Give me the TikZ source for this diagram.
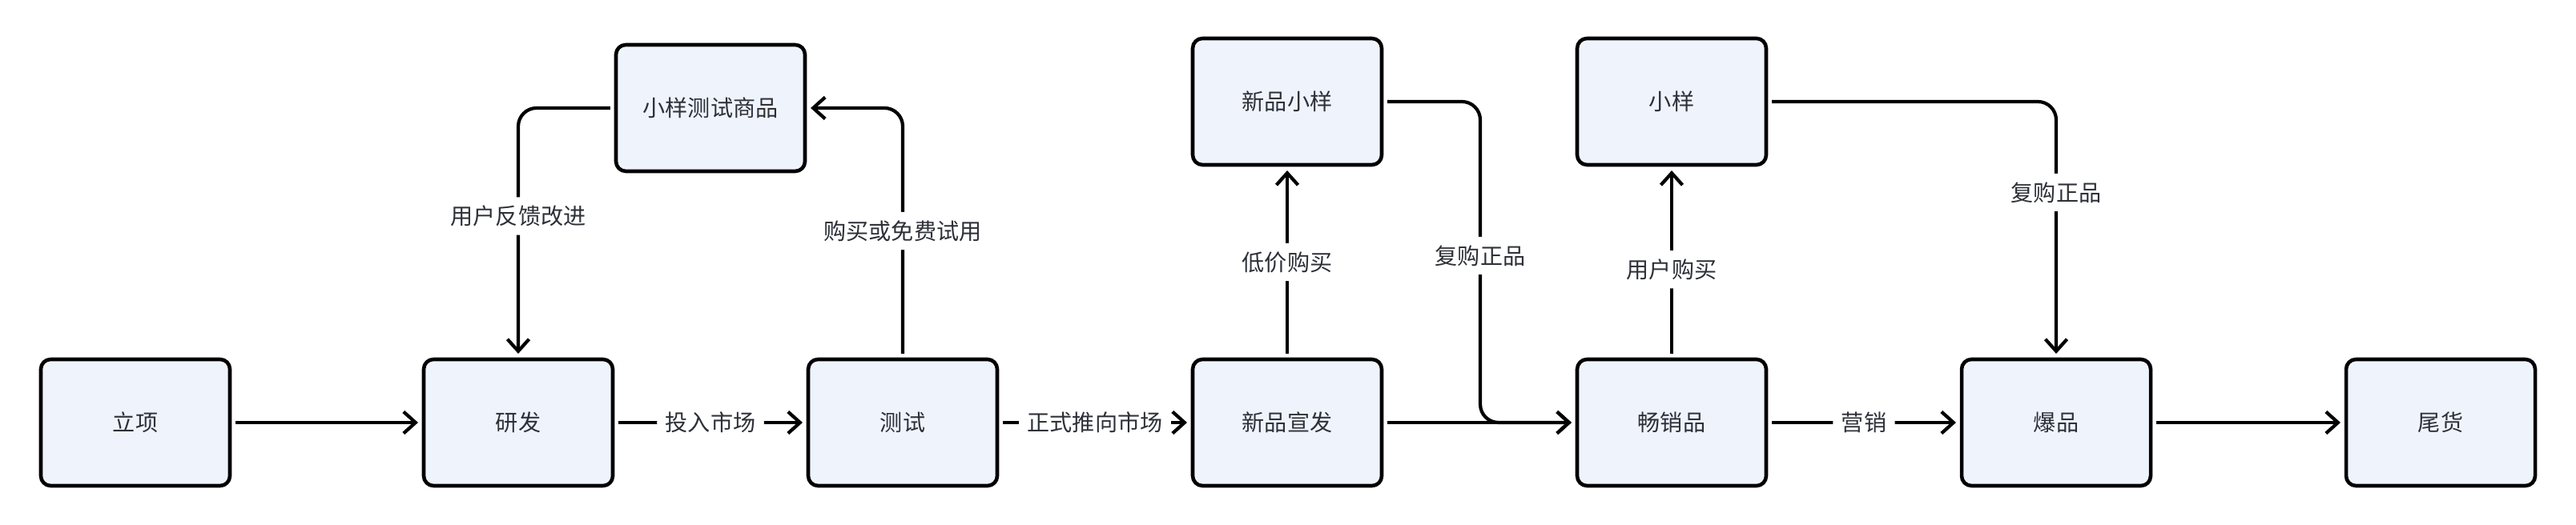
\documentclass[tikz,border=0pt]{standalone}
\usepackage{fontspec}
\setmainfont{Noto Sans CJK SC}
\usepackage{tikz}
\usetikzlibrary{positioning,arrows.meta}
\definecolor{boxfill}{RGB}{239,244,252}
\definecolor{txtgray}{RGB}{45,48,56}

\begin{document}
\begin{tikzpicture}[x=1cm,y=1cm,font=\fontsize{8}{10}\selectfont,
  stage/.style={draw=black,line width=1.3pt,rounded corners=3.5pt,fill=boxfill,text=txtgray,
    minimum width=2.36cm,minimum height=1.58cm,outer sep=2pt},
  link/.style={line width=1.2pt,rounded corners=6.5pt,-{Straight Barb[length=1.5mm,width=2.7mm,line width=1.2pt]}},
  tag/.style={fill=white,text=txtgray,inner sep=3pt}]

\useasboundingbox (0,0) rectangle (32.16,6.56);

% main line
\node[stage] (idea)   at (1.69,1.28)  {立项};
\node[stage] (dev)    at (6.47,1.28)  {研发};
\node[stage] (test)   at (11.27,1.28) {测试};
\node[stage] (launch) at (16.07,1.28) {新品宣发};
\node[stage] (best)   at (20.87,1.28) {畅销品};
\node[stage] (hit)    at (25.67,1.28) {爆品};
\node[stage] (tail)   at (30.47,1.28) {尾货};

% samples
\node[stage] (trial)  at (8.87,5.21)  {小样测试商品};
\node[stage] (nsmp)   at (16.07,5.29) {新品小样};
\node[stage] (smp)    at (20.87,5.29) {小样};

\draw[link] (idea) -- (dev);
\draw[link] (dev) -- node[tag]{投入市场} (test);
\draw[link] (test) -- node[tag]{正式推向市场} (launch);
\draw[link] (launch) -- (best);
\draw[link] (best) -- node[tag]{营销} (hit);
\draw[link] (hit) -- (tail);

\draw[link] (trial.west) -| node[tag,pos=0.72]{用户反馈改进} (dev.north);
\draw[link] (test.north) |- node[tag,pos=0.25]{购买或免费试用} (trial.east);
\draw[link] (launch) -- node[tag]{低价购买} (nsmp);
\draw[link] (best) -- node[tag,pos=0.46]{用户购买} (smp);

\coordinate (drop) at (18.48,1.28);
\draw[link] (nsmp.east) -| node[tag,pos=0.74]{复购正品} (drop) -- (best.west);
\draw[link] (smp.east) -| node[tag,pos=0.68]{复购正品} (hit.north);
\end{tikzpicture}
\end{document}
